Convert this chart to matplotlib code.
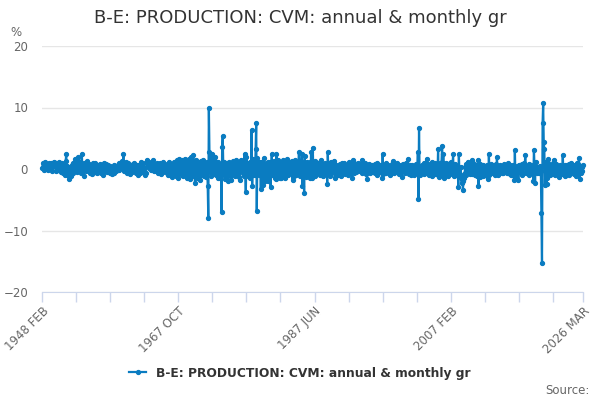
import numpy as np
import matplotlib
matplotlib.use("Agg")
import matplotlib.pyplot as plt

plt.rcParams['font.family'] = 'DejaVu Sans'

TITLE = "B-E: PRODUCTION: CVM: annual & monthly gr"
MONTHS = ["JAN", "FEB", "MAR", "APR", "MAY", "JUN",
          "JUL", "AUG", "SEP", "OCT", "NOV", "DEC"]

# monthly growth, % (Feb 1948 .. Mar 2026)
gr_1948_49 = [0.2, 0.4, 0.9, -0.1, 0.7, 1.1, 0.3, 0.6, 0.0, 0.8, 0.5,
              -0.2, 0.9, 0.4, 0.6, 1.0, 0.2, 0.7, -0.3, 0.8, 1.2, 0.5, 0.9]

gr_1950s = [
    0.6, -0.4, 1.0, 0.3, 0.8, -0.2, 0.5, 1.1, 0.2, 0.7, -0.5, 0.4,
    0.9, 0.1, -0.6, 0.8, 0.3, -0.9, 1.3, 2.4, -1.0, 0.5, -0.8, 0.2,
    -1.6, -0.9, 0.4, -1.2, -0.3, 0.6, -0.7, 0.9, -0.4, 0.8, 1.6, -0.2,
    0.3, 1.2, -0.5, 0.7, 1.9, -0.1, 0.6, 1.1, -0.6, 0.8, 2.5, -0.3,
    0.4, -1.1, 1.0, 0.2, 0.7, -0.4, 0.9, 1.3, 0.1, 0.6, -0.3, 0.8,
    0.5, -0.6, 0.7, 0.2, -0.8, 0.9, 0.1, 0.4, -0.5, 1.0, 0.3, -0.2,
    0.6, -0.7, 0.2, 0.5, -0.4, 0.1, 0.8, -0.6, 0.3, 0.7, -0.2, -0.9,
    0.9, 0.4, -0.3, 0.6, 0.8, -0.5, 0.2, 0.7, -0.4, 0.1, 0.5, -0.6,
    -0.3, 0.4, -0.8, 0.2, -0.5, 0.6, -0.7, 0.1, 0.3, -0.4, 0.5, 0.2,
    0.6, 0.3, 0.9, -0.2, 0.7, 1.0, 0.4, 1.3, 0.2, 0.8, 2.4, -0.4,
]

gr_1960s = [
    0.8, -0.3, 0.5, 1.2, -0.6, 0.4, 0.9, -0.2, 0.6, 0.1, -0.8, 0.7,
    0.3, -0.5, 0.8, 0.2, -0.4, 1.0, -0.1, 0.5, -0.7, 0.3, 0.6, -0.9,
    0.2, 0.7, -0.6, 0.4, 1.1, -0.3, 0.5, -0.5, 0.9, 0.2, -0.4, -0.7,
    -1.0, -0.6, 1.5, 1.3, 0.6, 0.9, 0.2, 1.1, 0.4, 0.8, -0.2, 0.7,
    1.0, 0.3, 1.5, -0.4, 0.8, 0.2, 0.6, -0.3, 0.9, 0.4, -0.6, 0.5,
    0.7, -0.2, 1.0, -0.8, 0.4, 0.3, -0.5, 1.1, -0.1, 0.6, 0.2, -0.4,
    0.5, 0.8, -0.6, 0.2, -0.9, 1.2, -0.3, -1.0, 0.4, -0.2, -1.3, 0.6,
    0.3, -0.7, 1.1, -0.4, 0.9, -1.2, 0.6, 1.4, -0.8, -1.5, 1.6, 0.2,
    1.3, -0.4, 0.8, -0.9, 1.5, 0.3, -1.1, 1.2, 1.7, -0.6, 0.9, 0.4,
    -1.4, 1.0, -0.2, 1.6, -0.9, 0.5, -1.7, 2.0, -0.5, 0.8, -1.2, 2.3,
]

gr_1970s = [
    -0.8, 1.2, -2.3, 1.5, -1.0, 0.6, -1.4, 1.1, -0.3, 0.9, -0.6, -1.8,
    1.3, -0.9, 0.7, 0.4, 1.5, -1.2, 0.8, -0.5, 1.0, -1.3, 0.6, 1.2,
    -2.7, -7.9, 9.9, 2.8, -0.5, 1.0, -1.2, 2.5, 0.3, 1.4, -0.8, 1.6,
    2.0, -0.6, 1.2, -1.0, 0.8, -1.5, 1.1, 0.2, -0.9, 0.6, -1.4, -0.8,
    -7.0, 3.6, 5.3, 0.4, -0.9, 1.2, -1.6, 0.7, -1.0, 1.0, -0.6, -1.9,
    -0.4, 1.1, -1.2, 0.5, -0.8, -1.8, 0.9, -1.0, 1.3, -0.6, 0.4, -1.1,
    0.9, 1.4, -0.9, 0.6, -0.3, 1.2, -1.3, 0.8, -1.8, 1.5, 0.7, 1.1,
    -0.5, 1.3, -1.2, 0.8, 2.5, -0.7, -3.8, 1.9, -0.4, 0.6, -1.1, 1.0,
    0.8, -1.4, 1.1, -0.6, 6.3, -2.8, 1.6, -1.0, 0.5, 1.3, -0.9, 3.3,
    7.5, -6.8, 1.8, 0.6, 1.2, -1.0, -0.5, 0.7, -3.2, 1.2, 0.5, -0.4,
]

gr_1980s = [
    -2.6, 1.8, -1.2, -0.8, -2.0, 0.9, -1.5, -0.6, 1.1, -1.9, 0.4, -0.9,
    1.2, -3.0, 0.6, 2.5, -1.0, 0.8, -0.4, 1.3, -1.4, 0.9, -1.6, 2.5,
    -1.1, 1.5, 0.3, -0.7, 1.2, -1.5, 0.8, -1.5, 1.0, 0.2, -0.6, 1.4,
    -0.9, 1.3, -1.5, 0.7, -0.4, 1.6, 0.2, -1.0, 1.1, 0.5, -0.7, 1.2,
    0.8, -0.6, 1.3, -1.8, 0.4, -1.2, 1.0, -0.5, 1.5, -0.9, 1.1, 0.6,
    -0.6, 0.9, 2.7, 0.5, -1.2, 1.3, -0.8, 2.4, -2.8, 0.7, 1.0, -3.9,
    2.1, -0.7, 0.9, -1.3, 1.2, 0.4, -1.0, 0.8, -0.5, 1.1, -1.4, 2.7,
    -0.9, -1.5, 3.4, -0.6, 0.8, -1.1, 1.3, 0.2, -0.8, 1.0, -0.4, 0.7,
    0.9, -0.7, 1.2, -1.0, 0.6, 1.4, -0.9, 0.5, -1.2, 0.8, 0.3, -0.6,
    1.0, -0.8, 0.4, -2.5, 2.7, -0.6, 0.9, -1.1, 0.5, 1.2, -0.7, 0.3,
]

gr_1990s = [
    0.6, -0.4, 0.9, 1.3, -1.5, 0.5, -0.8, 0.3, -0.9, 0.6, -1.0, 0.4,
    -0.7, 0.8, -1.1, 0.5, -0.3, 0.9, -0.6, 0.2, 1.0, -0.8, 0.4, -0.5,
    0.7, -0.4, 0.3, -0.9, 1.1, -0.6, 0.6, -0.2, 0.8, -0.5, -1.4, 0.9,
    1.5, -0.7, 0.9, 0.2, -0.5, 0.8, -0.3, 0.6, 1.0, -0.4, 0.5, -0.2,
    0.8, -0.3, 0.6, -0.6, 1.5, 0.1, -0.5, 0.7, 0.3, 0.9, -0.8, 0.4,
    -1.7, 0.6, 0.2, -0.4, 0.8, -0.7, 0.3, 0.5, -0.3, 0.7, -0.5, 0.2,
    0.4, -0.6, 0.8, -0.2, 0.5, -0.9, 1.0, -0.3, 0.6, -0.1, 0.7, -0.5,
    0.3, -0.4, -1.5, 2.5, -0.8, 0.6, -0.2, 0.4, -0.6, 0.9, -0.3, 0.5,
    -0.4, 0.7, -0.2, 0.3, -0.9, 0.5, -0.6, 0.8, -0.1, 1.3, -0.7, 0.2,
    0.6, -0.3, 0.4, -0.5, 0.9, -0.2, 0.7, -0.8, 0.3, 0.5, -0.4, 0.6,
]

gr_2000s = [
    -1.3, 0.6, -0.4, 0.8, -0.2, 0.5, -0.7, 0.3, 0.9, -0.5, 0.4, 1.7,
    -0.8, 0.5, -0.3, 0.7, -0.9, 0.2, 0.6, -0.5, 0.3, -1.0, 0.4, -0.6,
    0.8, -0.4, 0.3, -0.6, 2.8, -4.9, 6.6, -0.9, 0.4, -0.7, 0.5, -0.3,
    0.6, -0.5, 0.9, -0.8, 0.3, 0.7, -0.2, 1.7, -0.6, 0.4, 0.8, -0.9,
    0.5, -0.7, 0.8, -0.3, 1.1, -1.2, 0.6, -0.4, 0.2, 0.9, -0.8, 0.3,
    -0.6, 0.7, -1.0, 3.2, -1.3, 0.5, -0.8, 0.9, -0.4, 1.2, 3.7, -1.1,
    2.5, -1.4, 0.8, -0.6, 1.0, -0.9, 0.4, 0.7, -1.1, 0.6, -0.3, 0.9,
    -0.8, 0.5, 1.1, -0.7, 0.3, 2.4, -1.2, 0.6, -0.4, 0.8, -0.9, 0.5,
    -0.6, 0.4, -3.0, 2.5, -1.1, -0.8, 0.3, -1.5, -2.3, -1.2, -3.4, -1.9,
    -1.5, -0.7, 0.3, -0.9, 0.8, -0.4, 1.2, -0.3, 0.9, -0.2, 0.6, -0.8,
]

gr_2010s = [
    0.5, -0.8, 1.4, -0.6, 0.9, -0.4, 0.7, -1.0, 0.3, 0.6, -0.5, -1.2,
    1.5, -2.7, 0.6, -1.3, 0.8, -0.9, 0.4, -0.3, 0.7, -1.1, 0.5, -0.6,
    0.3, -0.8, -1.0, 0.6, -1.2, -0.7, -1.7, 2.5, -1.0, 0.4, -0.5, 0.8,
    -0.6, 0.5, -0.3, 0.7, -0.4, 0.6, -0.9, 0.8, 0.2, 2.0, -1.0, 0.4,
    0.3, -0.5, 0.6, -0.2, 0.4, -0.7, 0.5, 0.2, -0.6, 0.8, -0.4, 0.3,
    0.5, -0.3, 0.7, -0.6, 0.9, -0.5, 0.3, 0.6, -0.8, 0.4, -1.0, 0.5,
    0.6, -0.9, 0.3, -1.8, 3.1, -1.4, 0.2, 0.5, -0.6, 0.4, -1.8, 0.7,
    -0.5, 0.6, -0.4, 0.3, -0.9, 0.8, -0.6, 0.7, 0.9, 0.2, 2.3, -0.6,
    0.4, -0.7, 0.5, -0.3, -1.0, 0.8, -0.5, 0.3, 0.6, -0.4, -0.6, 0.5,
    -1.9, 3.1, 0.4, -2.2, 1.2, -0.5, 0.3, -0.6, 0.4, -0.2, -0.7, 0.5,
]

gr_2020s = [
    0.2, -0.3, -7.2, -15.3, 7.4, 10.7, 4.4, 3.3, -2.6, 0.5, 1.2, -2.4,
    -1.4, 1.0, 1.6, -0.7, -0.9, 0.6, -0.4, -0.5, 0.3, -0.8, 0.9, 1.5,
    -0.6, 0.4, -0.9, 0.3, 0.8, -0.7, -0.4, 0.5, -1.3, 0.2, 0.6, -0.5,
    -0.3, 0.4, -0.8, 2.3, -0.6, 0.5, -1.2, 0.7, 0.2, -0.9, 0.6, -0.4,
    0.5, -1.0, 0.8, -0.4, 0.3, -0.7, 1.0, -0.5, 0.6, -0.3, -0.8, 0.4,
    0.7, -0.5, -1.2, 0.9, -0.6, 0.8, -0.3, 1.8, -1.7, 0.4, -0.6, 0.5,
    0.3, -0.4, 0.6,
]

values = (gr_1948_49 + gr_1950s + gr_1960s + gr_1970s + gr_1980s
          + gr_1990s + gr_2000s + gr_2010s + gr_2020s)
x = np.arange(len(values))


def month_label(i):
    # index 0 is 1948 FEB
    n = i + 1
    return f"{1948 + n // 12} {MONTHS[n % 12]}"


blue = '#0a7cc1'
axis_col = '#ccd6eb'
grey = '#666666'

fig = plt.figure(figsize=(6, 4), dpi=100)
ax = fig.add_axes([42 / 600, 1 - 292 / 400, 541 / 600, 246 / 400])

for side in ['top', 'right', 'left']:
    ax.spines[side].set_visible(False)
ax.spines['bottom'].set_color(axis_col)

ax.plot(x, values, color=blue, lw=1.6, marker='o', ms=2.8,
        label=TITLE, clip_on=False, zorder=3)

ax.set_xlim(0, len(values) - 1)
ax.set_ylim(-20, 20)
ax.set_yticks([-20, -10, 0, 10, 20])
ax.tick_params(axis='y', length=0, pad=10, labelcolor=grey, labelsize=8.5)
ax.grid(axis='y', color='#e6e6e6', lw=1)
ax.set_axisbelow(True)

ticks = list(range(0, len(values) - 1, 59)) + [len(values) - 1]
labels = [month_label(t) if (k % 4 == 0 or t == ticks[-1]) else ''
          for k, t in enumerate(ticks)]
ax.set_xticks(ticks)
ax.set_xticklabels(labels)
ax.tick_params(axis='x', length=7, width=1, color=axis_col,
               labelcolor=grey, labelsize=8.5, pad=2)
plt.setp(ax.get_xticklabels(), rotation=45, ha='right', va='top',
         rotation_mode='anchor')

fig.text(0.5, 1 - 18 / 400, TITLE, ha='center', va='center',
         fontsize=13, color='#333333')
fig.text(10 / 600, 1 - 32 / 400, '%', ha='left', va='center',
         fontsize=8.5, color=grey)
fig.text(590 / 600, 1 - 390 / 400, 'Source:', ha='right', va='center',
         fontsize=8.5, color=grey)

leg = fig.legend(loc='center', bbox_to_anchor=(0.5, 1 - 373 / 400),
                 frameon=False, handlelength=1.4,
                 prop={'weight': 'bold', 'size': 8.8})
for t in leg.get_texts():
    t.set_color('#333333')

fig.savefig('out.png', dpi=100)
